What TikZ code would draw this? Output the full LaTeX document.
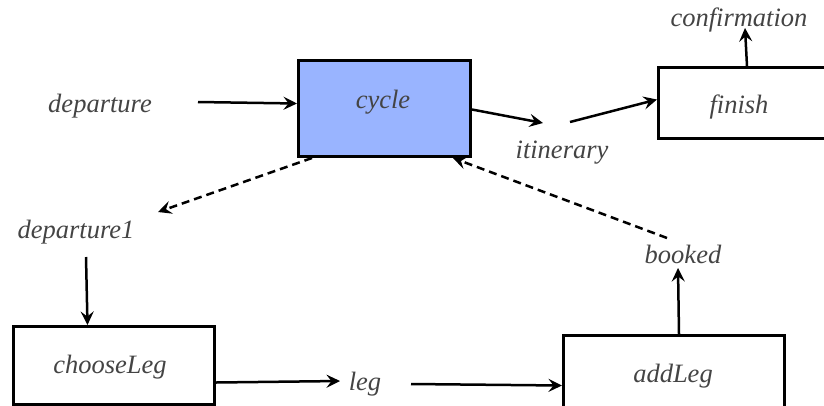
\documentclass[tikz,border=0pt]{standalone}
\usepackage{fontspec}
\newfontfamily\lblfont{Liberation Serif Italic}
\usetikzlibrary{arrows.meta}
\definecolor{labelgray}{HTML}{444444}
\definecolor{activeblue}{RGB}{153,180,255}
\begin{document}
\begin{tikzpicture}[x=1pt,y=-1pt,
  lbl/.style={anchor=base,inner sep=0pt,text=labelgray,
    font=\lblfont\fontsize{26.5}{30}\selectfont},
  proc/.style={draw=black,line width=3pt,inner sep=0pt,anchor=north west},
  arr/.style={line width=2.5pt,-{Stealth[length=13.5pt,width=13pt,inset=5pt]}},
  darr/.style={arr,dash pattern=on 8pt off 5pt}]
\useasboundingbox (0,0) rectangle (824,405);

% process boxes
\node[proc,fill=activeblue,minimum width=172pt,minimum height=96pt] (cycle) at (297,59) {};
\node[proc,minimum width=176pt,minimum height=71pt] (finish) at (657,66) {};
\node[proc,minimum width=201pt,minimum height=78pt] (choose) at (12,325) {};
\node[proc,minimum width=221pt,minimum height=100pt] (add) at (562,334) {};

% box captions
\node[lbl] (cycleT) at (383,108) {cycle};
\node[lbl] (finishT) at (739,113) {finish};
\node[lbl] (chooseT) at (110,373) {chooseLeg};
\node[lbl] (addT) at (673,382) {addLeg};

% data labels
\node[lbl] (dep) at (100,112) {departure};
\node[lbl] (itin) at (562,158) {itinerary};
\node[lbl] (conf) at (739,26) {confirmation};
\node[lbl] (dep1) at (76,238) {departure1};
\node[lbl] (leg) at (365,390) {leg};
\node[lbl] (booked) at (683,263) {booked};

% flows (xshift/yshift are canvas offsets: positive yshift moves up)
\draw[arr] ([shift={(98,-10)}]dep.base) -- ([yshift=5pt]cycle.west);
\draw[arr] ([yshift=-1pt]cycle.east) -- ([shift={(-19,-35)}]itin.base);
\draw[arr] ([shift={(8,-36)}]itin.base) -- ([yshift=3.5pt]finish.west);
\draw[arr] ([xshift=0.5pt]finish.north) -- ([shift={(6,2)}]conf.base);
\draw[darr] ([xshift=15pt]cycle.south west) -- ([shift={(82,-26)}]dep1.base);
\draw[arr] ([shift={(10,19)}]dep1.base) -- ([xshift=-26.5pt]choose.north);
\draw[arr] ([yshift=-17pt]choose.east) -- ([shift={(-25,-9)}]leg.base);
\draw[arr] ([shift={(46,-6)}]leg.base) -- (add.west);
\draw[arr] ([xshift=5pt]add.north) -- ([shift={(-5,5)}]booked.base);
\draw[darr] ([shift={(-16,-25)}]booked.base) -- ([xshift=-19pt]cycle.south east);
\end{tikzpicture}
\end{document}
